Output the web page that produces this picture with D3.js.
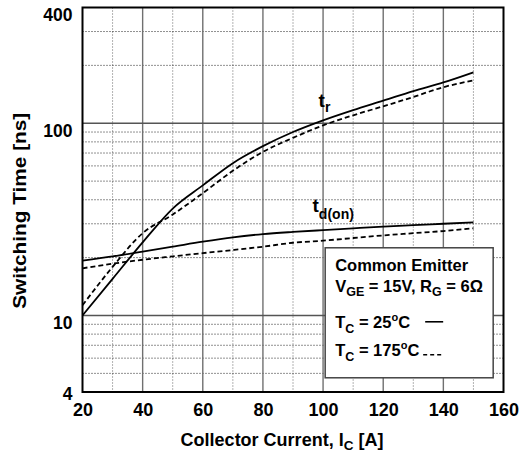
<!DOCTYPE html>
<html>
<head>
<meta charset="utf-8">
<script src="https://cdn.jsdelivr.net/npm/d3@7"></script>
<style>
  body { margin: 0; background: #fff; }
  svg text { font-family: "Liberation Sans", Arial, sans-serif; font-weight: bold; fill: #000; }
</style>
</head>
<body>
<div id="chart"></div>
<script>
// Collector current [A]
const current = [20, 30, 40, 50, 60, 70, 80, 90, 100, 110, 120, 130, 140, 150];
// Rise time t_r [ns]
const trCold = [10, 15.5, 24, 36, 47.5, 62, 76, 90, 103.5, 117, 131, 147, 163, 184];
const trHot = [11.3, 17.9, 26.8, 33.5, 43.3, 56.6, 71, 84, 97.5, 110, 122.5, 137, 154, 167];
// Turn-on delay t_d(on) [ns]
const tdCold = [19.3, 20.3, 21.5, 22.8, 24.2, 25.5, 26.5, 27.2, 27.8, 28.4, 29.0, 29.5, 30.0, 30.5];
const tdHot = [17.6, 18.6, 19.5, 20.3, 21.1, 21.9, 22.8, 23.9, 24.5, 25.3, 26.1, 26.8, 27.5, 28.4];

const xTicks = [20, 40, 60, 80, 100, 120, 140, 160];
const xMinor = [30, 50, 70, 90, 110, 130, 150];
const yTicks = [4, 10, 100, 400];
const yMajor = [10, 100];
const yMinor = [5, 6, 7, 8, 9, 20, 30, 40, 50, 60, 70, 80, 90, 200, 300];

const W = 524, H = 452;
const margin = { top: 7.5, right: 20.5, bottom: 60, left: 82.5 };
const width = W - margin.left - margin.right;
const height = H - margin.top - margin.bottom;

const svg = d3.select("#chart").append("svg")
    .attr("width", W)
    .attr("height", H);

const g = svg.append("g")
    .attr("transform", `translate(${margin.left},${margin.top})`);

const x = d3.scaleLinear().domain([20, 160]).range([0, width]);
const y = d3.scaleLog().domain([4, 400]).range([height, 0]);

// Grid - minor (dotted)
g.selectAll(".vminor").data(xMinor).enter().append("line")
    .attr("x1", d => x(d)).attr("x2", d => x(d))
    .attr("y1", 0).attr("y2", height)
    .style("stroke", "#666").style("stroke-width", 1).style("stroke-dasharray", "1,2");

g.selectAll(".hminor").data(yMinor).enter().append("line")
    .attr("y1", d => y(d)).attr("y2", d => y(d))
    .attr("x1", 0).attr("x2", width)
    .style("stroke", "#222").style("stroke-width", 1).style("stroke-dasharray", "1,2");

// Grid - major (solid)
g.selectAll(".vmajor").data(xTicks.slice(1, -1)).enter().append("line")
    .attr("x1", d => x(d)).attr("x2", d => x(d))
    .attr("y1", 0).attr("y2", height)
    .style("stroke", "#707070").style("stroke-width", 1.4);

g.selectAll(".hmajor").data(yMajor).enter().append("line")
    .attr("y1", d => y(d)).attr("y2", d => y(d))
    .attr("x1", 0).attr("x2", width)
    .style("stroke", "#555").style("stroke-width", 1.4);

// Curves
const line = d3.line()
    .x(d => x(d[0]))
    .y(d => y(d[1]))
    .curve(d3.curveMonotoneX);

const series = [
    { values: trCold, dash: null },
    { values: trHot, dash: "5,3" },
    { values: tdCold, dash: null },
    { values: tdHot, dash: "5,3" }
];

series.forEach(s => {
    g.append("path")
        .datum(current.map((c, i) => [c, s.values[i]]))
        .attr("d", line)
        .style("fill", "none")
        .style("stroke", "#000")
        .style("stroke-width", 1.8)
        .style("stroke-dasharray", s.dash);
});

// Curve labels
const trLabel = g.append("text")
    .attr("x", x(98.5)).attr("y", y(122))
    .style("font-size", "19px");
trLabel.append("tspan").text("t");
trLabel.append("tspan").attr("dy", 5).style("font-size", "14px").text("r");

const tdLabel = g.append("text")
    .attr("x", x(96.5)).attr("y", y(34.5))
    .style("font-size", "19px");
tdLabel.append("tspan").text("t");
tdLabel.append("tspan").attr("dy", 7).style("font-size", "14px").text("d(on)");

// Legend box
const lx = x(100.7), ly = y(22.5);
const legend = g.append("g").attr("transform", `translate(${lx},${ly})`);
legend.append("rect")
    .attr("width", 168).attr("height", 130)
    .style("fill", "#fff").style("stroke", "#444").style("stroke-width", 1.5);

legend.append("text").attr("x", 10).attr("y", 23)
    .style("font-size", "16.5px").text("Common Emitter");

const l2 = legend.append("text").attr("x", 10).attr("y", 44).style("font-size", "16.5px");
l2.append("tspan").text("V");
l2.append("tspan").attr("dy", 4).style("font-size", "12.5px").text("GE");
l2.append("tspan").attr("dy", -4).text(" = 15V, R");
l2.append("tspan").attr("dy", 4).style("font-size", "12.5px").text("G");
l2.append("tspan").attr("dy", -4).text(" = 6\u03A9");

function tcLine(yPos, temp) {
    const t = legend.append("text").attr("x", 10).attr("y", yPos).style("font-size", "16.5px");
    t.append("tspan").text("T");
    t.append("tspan").attr("dy", 5).style("font-size", "12.5px").text("C");
    t.append("tspan").attr("dy", -5).text(" = " + temp);
    t.append("tspan").attr("dy", -7).style("font-size", "11px").text("o");
    t.append("tspan").attr("dy", 7).text("C");
    return t;
}
tcLine(80, "25");
tcLine(108, "175");

legend.append("line")
    .attr("x1", 100).attr("x2", 118).attr("y1", 74).attr("y2", 74)
    .style("stroke", "#000").style("stroke-width", 1.6);
legend.append("line")
    .attr("x1", 98).attr("x2", 118).attr("y1", 107).attr("y2", 107)
    .style("stroke", "#000").style("stroke-width", 1.6).style("stroke-dasharray", "4,3");

// Axes
const xAxis = g.append("g")
    .attr("transform", `translate(0,${height})`)
    .call(d3.axisBottom(x).tickValues(xTicks).tickSize(0).tickPadding(11));
xAxis.select(".domain").remove();
xAxis.selectAll("text").style("font-size", "18px");

const yAxis = g.append("g")
    .call(d3.axisLeft(y).tickValues(yTicks).tickFormat(d3.format("d")).tickSize(0).tickPadding(10));
yAxis.select(".domain").remove();
yAxis.selectAll("text")
    .style("font-size", "17.5px")
    .attr("dy", d => d === 4 ? "0.45em" : "0.74em");

// Frame
g.append("rect")
    .attr("width", width).attr("height", height)
    .style("fill", "none").style("stroke", "#000").style("stroke-width", 2);

// Axis titles
const xt = svg.append("text")
    .attr("x", margin.left + width / 2 - 11)
    .attr("y", 446)
    .attr("text-anchor", "middle")
    .style("font-size", "18px");
xt.append("tspan").text("Collector Current, I");
xt.append("tspan").attr("dy", 4).style("font-size", "13.5px").text("C");
xt.append("tspan").attr("dy", -4).text(" [A]");

svg.append("text")
    .attr("transform", `translate(26,${margin.top + height / 2 + 11}) rotate(-90)`)
    .attr("text-anchor", "middle")
    .attr("textLength", 196)
    .attr("lengthAdjust", "spacingAndGlyphs")
    .style("font-size", "18px")
    .text("Switching Time [ns]");
</script>
</body>
</html>
